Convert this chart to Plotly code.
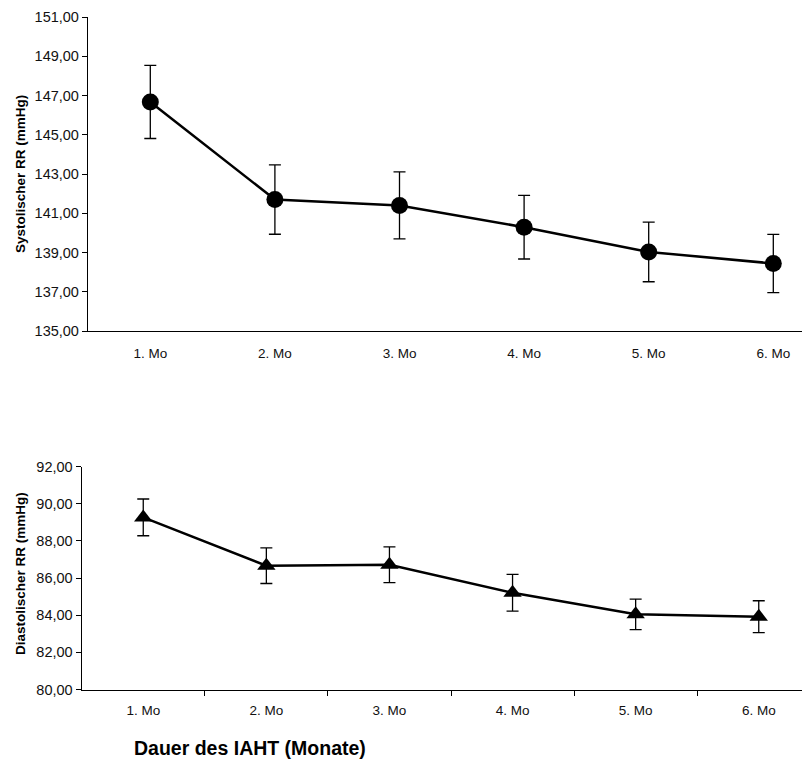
import plotly.graph_objects as go

months = ["1. Mo", "2. Mo", "3. Mo", "4. Mo", "5. Mo", "6. Mo"]
systolic = [146.67, 141.70, 141.40, 140.29, 139.03, 138.44]
systolic_err = [1.86, 1.77, 1.71, 1.62, 1.52, 1.48]
diastolic = [89.27, 86.67, 86.72, 85.21, 84.05, 83.92]
diastolic_err = [0.99, 0.96, 0.96, 0.99, 0.82, 0.86]
sys_ticks = [135, 137, 139, 141, 143, 145, 147, 149, 151]
dia_ticks = [80, 82, 84, 86, 88, 90, 92]

OFF = 8  # page body margin
W, H = 810 - OFF, 767 - OFF
FONT = "Liberation Sans, Arial, sans-serif"
xpos = list(range(len(months)))

def px(x):
    return (x - OFF) / W

def py(y):
    return 1 - (y - OFF) / H

fig = go.Figure()
fig.add_trace(go.Scatter(
    x=xpos, y=systolic, mode="lines+markers",
    line=dict(color="black", width=2.5),
    marker=dict(symbol="circle", size=17, color="black"),
    error_y=dict(type="data", array=systolic_err, color="black", thickness=1.3, width=6),
    xaxis="x", yaxis="y", showlegend=False,
))
fig.add_trace(go.Scatter(
    x=xpos, y=diastolic, mode="lines+markers",
    line=dict(color="black", width=2.5),
    marker=dict(symbol="triangle-up", size=16, color="black"),
    error_y=dict(type="data", array=diastolic_err, color="black", thickness=1.3, width=6),
    xaxis="x2", yaxis="y2", showlegend=False,
))

def common(size):
    return dict(showgrid=False, zeroline=False, showline=True, linecolor="black",
                linewidth=1.3, automargin=False,
                tickfont=dict(family=FONT, size=size, color="#111"))

fig.update_layout(
    width=W, height=H, margin=dict(l=0, r=0, t=0, b=0, autoexpand=False),
    paper_bgcolor="white", plot_bgcolor="white",
    separators=",.",
    font=dict(family=FONT, color="black"),
    xaxis=dict(domain=[px(88), 1], range=[-0.5, -0.5 + 722 / 124.6], anchor="y",
               tickmode="array", tickvals=xpos, ticktext=months, ticks="",
               ticklabelstandoff=10, **common(13.5)),
    yaxis=dict(domain=[py(331), py(17)], range=[135, 151], anchor="x",
               tickmode="array", tickvals=sys_ticks, tickformat=".2f",
               ticks="outside", ticklen=5, tickcolor="black", **common(14.5)),
    xaxis2=dict(domain=[px(81.7), 1], range=[-0.5, -0.5 + 728.3 / 123.1], anchor="y2",
                tickmode="array", tickvals=xpos, ticktext=months, ticks="",
                ticklabelstandoff=8, **common(13.5)),
    yaxis2=dict(domain=[py(689.5), py(466.7)], range=[80, 92], anchor="x2",
                tickmode="array", tickvals=dia_ticks, tickformat=".2f",
                ticks="outside", ticklen=5, tickcolor="black", **common(14.5)),
)

# category boundary tick marks on the lower x axis
fig.update_layout(xaxis2_minor=dict(tickmode="array", tickvals=[0.5, 1.5, 2.5, 3.5, 4.5],
                                    ticks="outside", ticklen=5, tickcolor="black"))

fig.add_annotation(text="<b>Systolischer RR (mmHg)</b>", textangle=-90,
                   x=px(20), y=py(174), xref="paper", yref="paper",
                   xanchor="center", yanchor="middle", showarrow=False,
                   font=dict(family=FONT, size=13.5, color="black"))
fig.add_annotation(text="<b>Diastolischer RR (mmHg)</b>", textangle=-90,
                   x=px(20), y=py(574), xref="paper", yref="paper",
                   xanchor="center", yanchor="middle", showarrow=False,
                   font=dict(family=FONT, size=13.5, color="black"))
fig.add_annotation(text="<b>Dauer des IAHT (Monate)</b>",
                   x=px(132), y=py(748), xref="paper", yref="paper",
                   xanchor="left", yanchor="middle", showarrow=False,
                   font=dict(family=FONT, size=19.5, color="black"))

fig.write_html("out.html")
